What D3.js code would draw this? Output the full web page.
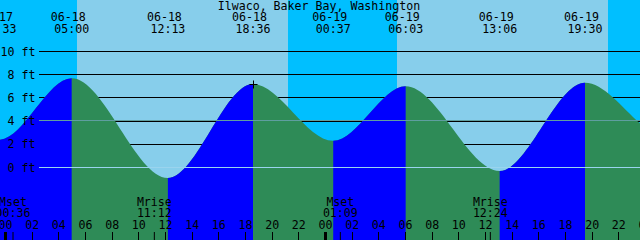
<!DOCTYPE html>
<html lang="en">
<head>
<meta charset="utf-8">
<title>Ilwaco, Baker Bay, Washington</title>
<script src="https://cdn.jsdelivr.net/npm/d3@7"></script>
<style>
body { margin: 0; }
svg { display: block; font-family: "DejaVu Sans Mono", monospace; font-size: 11.6px; }
</style>
</head>
<body>
<script>

// Chart data
var title = "Ilwaco, Baker Bay, Washington";

// tide extremes (first and last two lie outside the window)
var tideDates = ["06-17", "06-17", "06-18", "06-18", "06-18", "06-19", "06-19", "06-19", "06-19", "06-20", "06-20"];
var tideTimes = ["17:20", "23:33", "05:00", "12:13", "18:36", "00:37", "06:03", "13:06", "19:30", "01:40", "07:10"];
var tideFeet  = [7.4, 2.4, 7.7, -0.9, 7.2, 2.3, 7.0, -0.3, 7.3, 2.6, 7.0];

// sunrise / sunset
var sunDates = ["06-18", "06-18", "06-19", "06-19"];
var sunTimes = ["05:24", "21:13", "05:24", "21:13"];

// moon events
var moonDates = ["06-18", "06-18", "06-19", "06-19"];
var moonTimes = ["00:36", "11:12", "01:09", "12:24"];
var moonKinds = ["Mset", "Mrise", "Mset", "Mrise"];

var feetTicks = [0, 2, 4, 6, 8, 10];
var mslFeet = 4.05;
var markDate = "06-18", markTime = "18:36", markFeet = 7.2;

// Width and height
var w = 640;
var h = 240;

// hours since 06-18 00:00
function toHours(date, time) {
	var day = +date.slice(3) - 18;
	var t = time.split(":");
	return day * 24 + (+t[0]) + (+t[1]) / 60;
}

var x = d3.scaleLinear().domain([-0.375, 47.625]).range([0, w]);
var y = d3.scaleLinear().domain([0, 10]).range([167.5, 51.5]);

var tides = tideDates.map(function(d, i) {
	return { date: d, time: tideTimes[i], h: toHours(d, tideTimes[i]), ft: tideFeet[i] };
});

var svg = d3.select("body").append("svg")
	.attr("width", w)
	.attr("height", h);

// sky: night / day
var sunH = sunDates.map(function(d, i) { return toHours(d, sunTimes[i]); });
var skyEdges = [x.domain()[0]].concat(sunH).concat([x.domain()[1]]);
for (var i = 0; i < skyEdges.length - 1; i++) {
	svg.append("rect")
		.attr("x", x(skyEdges[i]))
		.attr("y", 0)
		.attr("width", x(skyEdges[i + 1]) - x(skyEdges[i]))
		.attr("height", h)
		.attr("fill", i % 2 == 0 ? "#00bfff" : "#87ceeb");
}

// grid lines behind the water
svg.selectAll("line.grid")
	.data(feetTicks)
	.enter().append("line")
	.attr("class", "grid")
	.attr("x1", 39).attr("x2", w)
	.attr("y1", function(d) { return Math.floor(y(d)) + 0.5; })
	.attr("y2", function(d) { return Math.floor(y(d)) + 0.5; })
	.attr("stroke", "#000");

// water
var area = d3.area()
	.x(function(d) { return x(d.h); })
	.y0(h)
	.y1(function(d) { return y(d.ft); })
	.curve(d3.curveMonotoneX);

var clip = svg.append("clipPath").attr("id", "rising");
for (var i = 0; i < tides.length - 1; i++) {
	if (tides[i + 1].ft > tides[i].ft) {
		clip.append("rect")
			.attr("x", x(tides[i].h))
			.attr("y", 0)
			.attr("width", x(tides[i + 1].h) - x(tides[i].h))
			.attr("height", h);
	}
}

svg.append("path").datum(tides).attr("d", area).attr("fill", "#2e8b57");
svg.append("path").datum(tides).attr("d", area).attr("fill", "#0000ff")
	.attr("clip-path", "url(#rising)");

// mean sea level and datum lines
svg.append("line")
	.attr("x1", 39).attr("x2", w)
	.attr("y1", Math.floor(y(mslFeet)) + 0.5).attr("y2", Math.floor(y(mslFeet)) + 0.5)
	.attr("stroke", "#5f9ea0");
svg.append("line")
	.attr("x1", 39).attr("x2", w)
	.attr("y1", Math.floor(y(0)) + 0.5).attr("y2", Math.floor(y(0)) + 0.5)
	.attr("stroke", "#9ad4ee");

// feet labels
svg.selectAll("text.ft")
	.data(feetTicks)
	.enter().append("text")
	.attr("x", 35.5)
	.attr("y", function(d) { return y(d) + 4; })
	.attr("text-anchor", "end")
	.text(function(d) { return d + " ft"; });

// title
svg.append("text")
	.attr("x", 319).attr("y", 10)
	.attr("text-anchor", "middle")
	.text(title);

// tide labels
var tl = svg.selectAll("g.tide")
	.data(tides)
	.enter().append("g")
	.attr("transform", function(d) { return "translate(" + x(d.h) + ",0)"; });
tl.append("text").attr("x", -3.5).attr("y", 21).attr("text-anchor", "middle")
	.text(function(d) { return d.date; });
tl.append("text").attr("x", 0).attr("y", 33).attr("text-anchor", "middle")
	.text(function(d) { return d.time; });

// hour ticks and labels
var hourTicks = d3.range(0, 50, 2);
svg.selectAll("rect.tick")
	.data(hourTicks)
	.enter().append("rect")
	.attr("x", function(d) { return d % 24 == 0 ? Math.round(x(d)) - 1 : Math.round(x(d)); })
	.attr("y", 232)
	.attr("width", function(d) { return d % 24 == 0 ? 3 : 1; })
	.attr("height", 8)
	.attr("fill", "#000");
svg.selectAll("text.hour")
	.data(hourTicks)
	.enter().append("text")
	.attr("x", function(d) { return x(d) + 0.5; })
	.attr("y", 229)
	.attr("text-anchor", "middle")
	.text(function(d) { return d3.format("02d")(d % 24); });

// moon events
var moon = moonDates.map(function(d, i) {
	return { h: toHours(d, moonTimes[i]), time: moonTimes[i], kind: moonKinds[i] };
});
var ml = svg.selectAll("g.moon")
	.data(moon)
	.enter().append("g")
	.attr("transform", function(d) { return "translate(" + x(d.h) + ",0)"; });
ml.append("rect").attr("x", -0.5).attr("y", 232).attr("width", 1).attr("height", 8).attr("fill", "#000");
ml.append("text").attr("y", 206).attr("text-anchor", "middle").text(function(d) { return d.kind; });
ml.append("text").attr("y", 217).attr("text-anchor", "middle").text(function(d) { return d.time; });

// plus mark
var mx = Math.round(x(toHours(markDate, markTime))) + 0.5;
var my = Math.round(y(markFeet)) + 0.5;
svg.append("path")
	.attr("d", "M" + (mx - 4) + "," + my + "H" + (mx + 4) + "M" + mx + "," + (my - 4) + "V" + (my + 4))
	.attr("stroke", "#000");

</script>
</body>
</html>
